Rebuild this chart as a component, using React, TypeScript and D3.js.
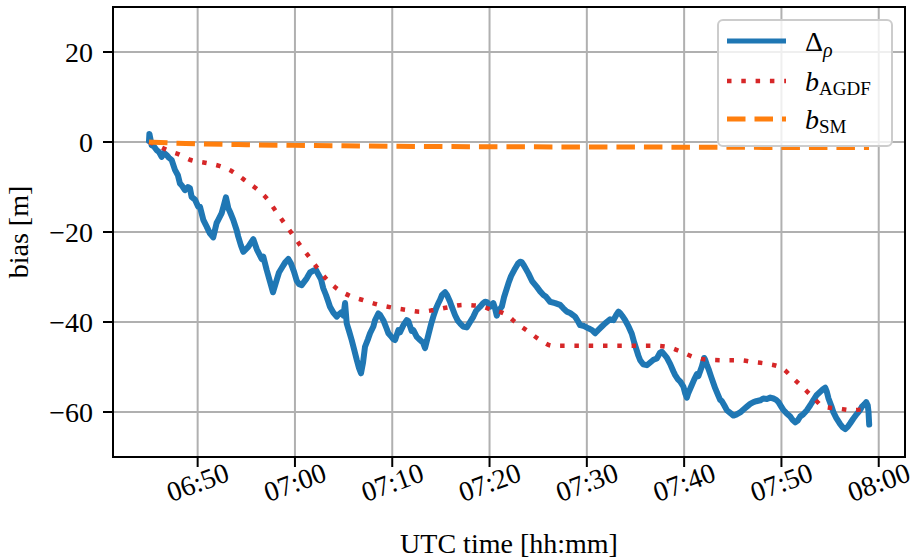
import * as d3 from 'd3';

// minutes after 06:00 UTC
const rhoT = [45.00, 45.04, 45.27, 45.51, 45.78, 46.02, 46.30, 46.53, 46.81, 47.05, 47.33, 47.67, 47.97, 48.18, 48.35, 48.69, 49.00, 49.21, 49.38, 49.72,
  50.06, 50.24, 50.58, 50.93, 51.26, 51.60, 51.95, 52.12, 52.47, 52.70, 52.91, 53.15, 53.32, 53.66, 54.01, 54.17, 54.45, 54.69, 55.20, 55.72,
  56.07, 56.58, 56.75, 57.09, 57.43, 57.74, 58.12, 58.36, 58.64, 58.98, 59.32, 59.59, 59.90, 60.18, 60.42, 60.69, 61.21, 61.55, 61.89, 62.16,
  62.40, 62.68, 62.91, 63.19, 63.43, 63.60, 63.94, 64.29, 64.46, 64.81, 64.99, 65.15, 65.32, 65.56, 65.83, 66.07, 66.35, 66.58, 66.79, 67.00,
  67.20, 67.51, 67.72, 68.06, 68.23, 68.57, 68.74, 69.08, 69.43, 69.60, 69.88, 70.11, 70.29, 70.63, 70.80, 71.14, 71.49, 71.65, 72.00, 72.17,
  72.52, 72.86, 73.17, 73.37, 73.71, 73.99, 74.22, 74.50, 74.74, 74.91, 75.12, 75.43, 75.63, 75.94, 76.12, 76.46, 76.76, 76.97, 77.28, 77.66,
  78.00, 78.34, 78.62, 79.03, 79.34, 79.54, 79.75, 80.05, 80.39, 80.57, 80.74, 80.93, 81.26, 81.49, 81.94, 82.21, 82.63, 82.93, 83.14, 83.31,
  83.55, 83.99, 84.37, 84.86, 85.20, 85.54, 85.81, 86.22, 86.74, 87.25, 87.56, 87.94, 88.28, 88.79, 89.10, 89.31, 89.72, 90.16, 90.54, 90.85,
  91.16, 91.54, 91.88, 92.39, 92.73, 93.01, 93.25, 93.42, 93.63, 93.94, 94.24, 94.62, 94.86, 95.30, 95.48, 95.79, 96.17, 96.51, 96.85, 97.19,
  97.53, 97.71, 97.95, 98.22, 98.56, 98.90, 99.08, 99.38, 99.59, 99.93, 100.10, 100.28, 100.41, 100.79, 101.03, 101.31, 101.47, 101.82, 102.06, 102.16,
  102.32, 102.50, 102.78, 103.01, 103.19, 103.50, 103.70, 103.88, 104.12, 104.39, 104.73, 105.07, 105.35, 105.76, 106.07, 106.45, 106.79, 107.13, 107.41, 107.82,
  108.13, 108.51, 108.85, 109.18, 109.46, 109.70, 109.98, 110.21, 110.49, 110.90, 111.16, 111.42, 111.67, 111.93, 112.24, 112.62, 112.96, 113.30, 113.63, 113.99,
  114.24, 114.50, 114.65, 114.84, 115.12, 115.35, 115.63, 116.04, 116.30, 116.56, 116.81, 117.07, 117.38, 117.76, 118.10, 118.27, 118.51, 118.71, 118.87, 118.95,
  119.02];
const rhoV = [0.2, 1.8, -0.7, -1.0, -1.8, -2.2, -3.3, -2.4, -2.9, -3.5, -4.0, -6.2, -7.4, -9.2, -9.6, -10.7, -10.0, -10.3, -12.2, -12.8,
  -14.4, -14.4, -17.3, -18.8, -20.3, -21.2, -18.0, -17.3, -15.8, -14.0, -12.3, -14.7, -15.5, -17.3, -19.6, -21.0, -23.0, -24.4, -23.3, -21.6,
  -23.8, -26.0, -25.5, -28.4, -31.0, -33.4, -30.7, -29.0, -28.0, -26.8, -26.0, -27.0, -28.8, -30.8, -31.6, -31.8, -30.3, -29.0, -28.6, -28.4,
  -29.4, -30.5, -32.5, -34.0, -35.5, -36.6, -37.9, -38.8, -38.4, -37.8, -38.6, -35.8, -40.3, -42.0, -44.0, -46.0, -48.4, -50.2, -51.4, -49.0,
  -45.5, -43.8, -42.5, -41.0, -39.6, -38.1, -38.4, -39.6, -41.5, -42.5, -43.2, -43.8, -44.0, -41.8, -42.3, -40.7, -39.6, -39.8, -42.0, -41.8,
  -43.3, -44.0, -44.6, -45.8, -42.9, -40.5, -38.8, -37.0, -35.8, -35.1, -34.0, -33.4, -34.0, -35.5, -36.6, -38.5, -39.8, -40.3, -41.0, -41.2,
  -40.0, -38.8, -37.5, -36.6, -35.8, -35.5, -35.6, -36.6, -35.8, -37.0, -38.6, -37.5, -36.6, -34.5, -31.4, -29.8, -28.1, -27.0, -26.6, -26.7,
  -27.5, -29.2, -30.9, -32.2, -33.2, -34.0, -34.4, -35.5, -35.8, -36.2, -36.9, -37.7, -38.0, -38.8, -39.9, -40.7, -40.9, -41.4, -41.8, -42.5,
  -41.8, -41.0, -40.3, -39.4, -39.6, -38.5, -37.7, -38.0, -38.6, -39.6, -40.8, -42.6, -44.5, -47.5, -48.5, -49.4, -49.6, -49.0, -48.4, -48.1,
  -46.8, -46.6, -47.2, -47.9, -49.3, -51.0, -51.8, -52.8, -53.2, -54.4, -55.8, -56.8, -55.9, -54.0, -52.8, -51.6, -52.0, -49.9, -48.0, -48.4,
  -49.4, -50.4, -52.2, -53.6, -54.7, -56.3, -57.3, -57.6, -58.5, -59.6, -60.2, -60.8, -60.6, -60.1, -59.5, -58.8, -58.2, -57.8, -57.6, -57.4,
  -57.0, -57.1, -56.8, -57.0, -57.3, -57.8, -58.8, -59.6, -60.2, -61.0, -61.8, -62.3, -61.9, -61.0, -60.5, -59.6, -58.5, -57.3, -56.2, -55.5,
  -55.0, -54.6, -55.4, -57.0, -58.6, -60.1, -61.3, -62.7, -63.4, -63.8, -63.3, -62.5, -61.5, -60.4, -59.5, -58.8, -58.3, -57.8, -58.5, -60.0,
  -62.8];

const agdfT = [45.00, 45.71, 46.46, 47.20, 48.01, 49.28, 50.75, 52.22, 53.60, 54.79, 55.99, 57.09, 57.95, 58.80, 59.67, 60.52, 61.44, 62.34, 63.26, 64.39,
  65.66, 67.10, 68.51, 69.98, 71.42, 72.89, 74.40, 75.84, 77.31, 78.79, 80.26, 81.67, 82.80, 83.99, 85.20, 86.50, 88.00, 90.95, 93.94, 96.92,
  98.39, 99.77, 101.13, 102.60, 104.15, 105.63, 107.07, 108.51, 110.01, 111.11, 112.17, 113.24, 114.33, 115.76, 117.31, 118.71, 119.02];
const agdfV = [0.0, -0.6, -1.4, -2.1, -2.7, -4.0, -4.6, -5.3, -6.6, -8.4, -10.3, -12.5, -15.1, -17.7, -20.3, -22.9, -25.5, -28.1, -30.5, -32.7,
  -34.2, -35.2, -36.1, -36.8, -37.3, -37.7, -37.3, -36.7, -36.2, -36.4, -37.3, -38.3, -40.3, -42.1, -44.0, -45.3, -45.3, -45.3, -45.3, -45.3,
  -45.6, -46.7, -47.9, -48.4, -48.5, -48.5, -48.9, -49.3, -50.2, -52.3, -54.5, -56.7, -58.8, -59.2, -59.6, -59.3, -59.2];

const smT = [45, 47, 50, 55, 60, 65, 70, 80, 90, 100, 110, 119];
const smV = [0.0, -0.2, -0.4, -0.6, -0.75, -0.85, -0.95, -1.05, -1.1, -1.15, -1.2, -1.2];

const xTicks = [50, 60, 70, 80, 90, 100, 110, 120];
const yTicks = [20, 0, -20, -40, -60];

const FONT = "'Liberation Serif', 'DejaVu Serif', serif";
const FS = 28;

const fmtTime = (m: number) => {
  const h = 6 + Math.floor(m / 60);
  const mm = Math.round(m % 60);
  return `${String(h).padStart(2, '0')}:${String(mm).padStart(2, '0')}`;
};

export default function App() {
  const x = d3.scaleLinear().domain([41.3, 122.7]).range([113, 905]);
  const y = d3.scaleLinear().domain([-70, 30]).range([457, 7]);
  const [x0, x1] = x.range();
  const [y1, y0] = y.range();

  const zip = (t: number[], v: number[]) => t.map((d, i) => [d, v[i]] as [number, number]);
  const line = d3.line<[number, number]>().x(d => x(d[0])).y(d => y(d[1]));
  const smooth = d3.line<[number, number]>().x(d => x(d[0])).y(d => y(d[1])).curve(d3.curveMonotoneX);

  const fmtY = d3.format('d');
  const legendRows = [
    { color: '#1f77b4', dash: undefined, width: 5, y: 41 },
    { color: '#d62728', dash: '4.5 9.8', width: 4.5, y: 81 },
    { color: '#ff7f0e', dash: '18.5 9', width: 5, y: 119 },
  ];

  return (
    <svg width={915} height={559} style={{ position: 'absolute', left: 0, top: 0, background: '#fff' }} fontFamily={FONT}>
      <defs>
        <clipPath id="plot">
          <rect x={x0} y={y0} width={x1 - x0} height={y1 - y0} />
        </clipPath>
      </defs>

      {/* grid */}
      <g stroke="#b0b0b0" strokeWidth={2}>
        {xTicks.map(t => <line key={'gx' + t} x1={x(t)} x2={x(t)} y1={y0} y2={y1} />)}
        {yTicks.map(t => <line key={'gy' + t} x1={x0} x2={x1} y1={y(t)} y2={y(t)} />)}
      </g>

      <g clipPath="url(#plot)" fill="none">
        <path d={line(zip(rhoT, rhoV)) || ''} stroke="#1f77b4" strokeWidth={6} strokeLinejoin="round" strokeLinecap="round" />
        <path d={smooth(zip(agdfT, agdfV)) || ''} stroke="#d62728" strokeWidth={4.5} strokeDasharray="4.5 9.8" />
        <path d={smooth(zip(smT, smV)) || ''} stroke="#ff7f0e" strokeWidth={5} strokeDasharray="18.5 9" />
      </g>

      {/* legend */}
      <g>
        <rect x={718} y={20} width={174} height={126} rx={5} fill="#fff" fillOpacity={0.8} stroke="#cccccc" strokeWidth={2} />
        {legendRows.map((r, i) => (
          <line key={i} x1={727} x2={786} y1={r.y} y2={r.y} stroke={r.color} strokeWidth={r.width} strokeDasharray={r.dash} />
        ))}
        <text x={805} y={51} fontSize={FS} fill="#000">
          Δ<tspan fontStyle="italic" fontSize={20} dy={6}>ρ</tspan>
        </text>
        <text x={805} y={91} fontSize={FS} fill="#000">
          <tspan fontStyle="italic">b</tspan><tspan fontSize={19} dy={4}>AGDF</tspan>
        </text>
        <text x={805} y={129} fontSize={FS} fill="#000">
          <tspan fontStyle="italic">b</tspan><tspan fontSize={19} dy={4}>SM</tspan>
        </text>
      </g>

      {/* spines */}
      <rect x={x0} y={y0} width={x1 - x0} height={y1 - y0} fill="none" stroke="#000" strokeWidth={2} />

      {/* y axis */}
      <g>
        {yTicks.map(t => (
          <g key={'yt' + t}>
            <line x1={x0 - 10} x2={x0} y1={y(t)} y2={y(t)} stroke="#000" strokeWidth={2} />
            <text x={x0 - 20} y={y(t)} dy="0.35em" textAnchor="end" fontSize={FS}>{fmtY(t)}</text>
          </g>
        ))}
        <text transform={`translate(28,${(y0 + y1) / 2}) rotate(-90)`} textAnchor="middle" fontSize={FS}>bias [m]</text>
      </g>

      {/* x axis */}
      <g>
        {xTicks.map(t => (
          <g key={'xt' + t}>
            <line x1={x(t)} x2={x(t)} y1={y1} y2={y1 + 10} stroke="#000" strokeWidth={2} />
            <text transform={`translate(${x(t)},${482}) rotate(-20)`} textAnchor="middle" dy="0.35em" fontSize={FS}>{fmtTime(t)}</text>
          </g>
        ))}
        <text x={(x0 + x1) / 2} y={553} textAnchor="middle" fontSize={FS}>UTC time [hh:mm]</text>
      </g>
    </svg>
  );
}
